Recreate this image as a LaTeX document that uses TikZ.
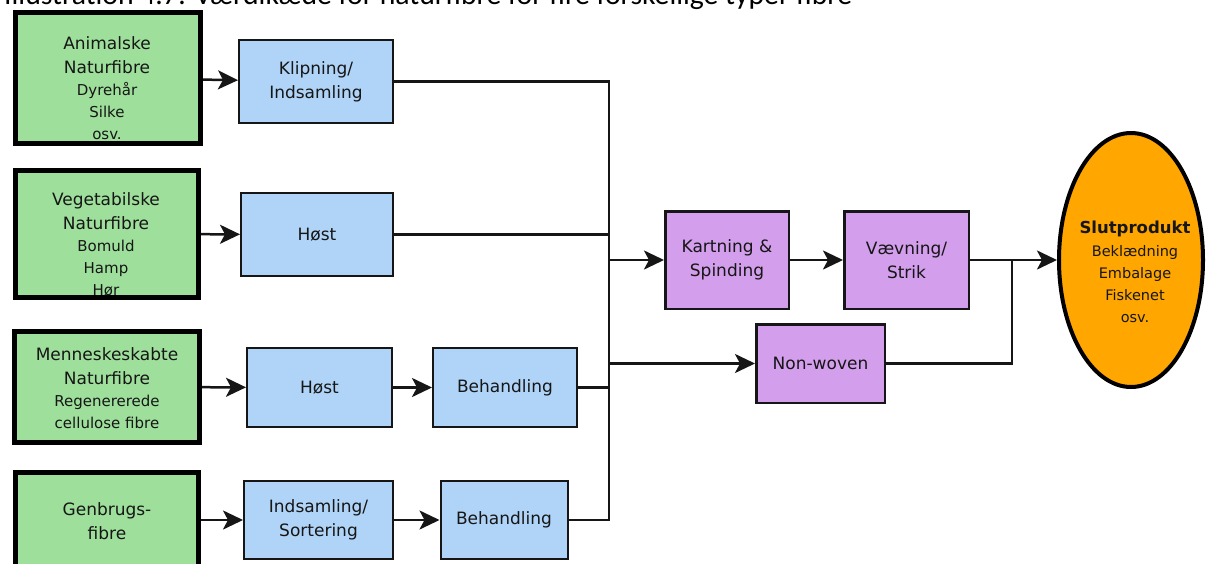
\documentclass[tikz,border=0pt]{standalone}
\usepackage{graphicx}
\usepackage{fontspec}
\setmainfont{DejaVu Sans}
\newfontfamily\capfont{Carlito}
\usetikzlibrary{arrows.meta,shapes.geometric}

\definecolor{fibregreen}{RGB}{158,224,155}
\definecolor{stepblue}{RGB}{176,212,247}
\definecolor{processpurple}{RGB}{211,158,236}
\definecolor{productorange}{RGB}{255,166,0}
\definecolor{inkgrey}{RGB}{22,22,22}

\newcommand\mainsz{\fontsize{17}{24}\selectfont}
\newcommand\subsz{\fontsize{15}{21.5}\selectfont}
\newcommand\prodsz{\fontsize{14.5}{22}\selectfont}

\begin{document}
\begin{tikzpicture}[x=1pt,y=-1pt,
  every node/.style={text=inkgrey},
  fibrebox/.style={draw=black, line width=5pt, fill=fibregreen, rectangle, inner sep=0pt},
  stepbox/.style={draw=inkgrey, line width=2pt, fill=stepblue, rectangle, inner sep=0pt,
                  align=center, font=\mainsz},
  procbox/.style={draw=inkgrey, line width=2.5pt, fill=processpurple, rectangle, inner sep=0pt,
                  align=center, font=\mainsz},
  boxtext/.style={align=center, font=\mainsz, inner sep=0pt},
  link/.style={draw=inkgrey, line width=2.5pt, line join=miter},
  arr/.style={link, -{Stealth[length=20pt,width=19pt,inset=5pt]}}
]
\useasboundingbox (0,0) rectangle (1211,563);
\clip (0,0) rectangle (1211,563);
\fill[white] (0,0) rectangle (1211,563);

% caption line, cut by the top edge
\node[anchor=base west, inner sep=0pt, text=black] (caption) at (4,4.5)
  {\resizebox{848pt}{!}{\capfont Illustration 4.7: Værdikæde for naturfibre for fire forskellige typer fibre}};

% fibre sources
\node[fibrebox, minimum width=185pt, minimum height=131pt] (g1) at (108,78) {};
\node[boxtext] (g1t) at (107,88) {Animalske\\Naturfibre\\[-2pt]{\subsz Dyrehår}\\[-2pt]{\subsz Silke}\\[-2pt]{\subsz osv.}};

\node[fibrebox, minimum width=183pt, minimum height=127pt] (g2) at (107,234) {};
\node[boxtext] (g2t) at (106,244) {Vegetabilske\\Naturfibre\\[-2pt]{\subsz Bomuld}\\[-2pt]{\subsz Hamp}\\[-2pt]{\subsz Hør}};

\node[fibrebox, minimum width=185pt, minimum height=111pt] (g3) at (107,387) {};
\node[boxtext] (g3t) at (107,388) {Menneskeskabte\\Naturfibre\\[-2pt]{\subsz Regenererede}\\[-2pt]{\subsz cellulose fibre}};

\node[fibrebox, minimum width=183pt, minimum height=135pt] (g4) at (107,540) {};
\node[boxtext] (g4t) at (107,521) {Genbrugs-\\fibre};

% first processing steps
\node[stepbox, minimum width=154pt, minimum height=83pt] (k) at (316,81.5) {Klipning/\\Indsamling};
\node[stepbox, minimum width=152pt, minimum height=83pt] (h1) at (317,234.5) {Høst};
\node[stepbox, minimum width=145pt, minimum height=79pt] (h2) at (319.5,387.5) {Høst};
\node[stepbox, minimum width=144pt, minimum height=79pt] (b1) at (505,387.5) {Behandling};
\node[stepbox, minimum width=149pt, minimum height=78pt] (i) at (318.5,520) {Indsamling/\\Sortering};
\node[stepbox, minimum width=127pt, minimum height=78pt] (b2) at (504,520) {Behandling};

% textile processes
\node[procbox, minimum width=123.5pt, minimum height=97.5pt] (kart) at (727,260) {Kartning \&\\Spinding};
\node[procbox, minimum width=124.5pt, minimum height=97.5pt] (vaev) at (906.5,260) {Vævning/\\Strik};
\node[procbox, minimum width=128.5pt, minimum height=78.5pt] (non) at (820.5,363.5) {Non-woven};

% end product
\node[ellipse, draw=black, line width=4pt, fill=productorange, inner sep=0pt,
      minimum width=144pt, minimum height=254pt] (slut) at (1131,260) {};
\node[boxtext, font=\prodsz] (slutt) at (1135,272)
  {{\fontsize{16.5}{22}\selectfont\bfseries Slutprodukt}\\[1pt]Beklædning\\Embalage\\Fiskenet\\osv.};

% collecting line and junction
\coordinate (bus) at (609,0);
\coordinate (jn) at (1012,260);

% connectors
\draw[arr] (g1) -- (k);
\draw[arr] (g2) -- (h1);
\draw[arr] (g3) -- (h2);
\draw[arr] (h2) -- (b1);
\draw[arr] (g4.east |- i.west) -- (i.west);
\draw[arr] (i) -- (b2);

\draw[link] (k.east) -- (k.east -| bus) -- (b2.east -| bus) -- (b2.east);
\draw[link] (h1.east) -- (h1.east -| bus);
\draw[link] (b1.east) -- (b1.east -| bus);

\draw[arr] (kart.west -| bus) -- (kart.west);
\draw[arr] (non.west -| bus) -- (non.west);
\draw[arr] (kart) -- (vaev);
\draw[arr] (vaev.east) -- (slut.west);
\draw[link] (non.east) -| (jn);
\end{tikzpicture}
\end{document}
